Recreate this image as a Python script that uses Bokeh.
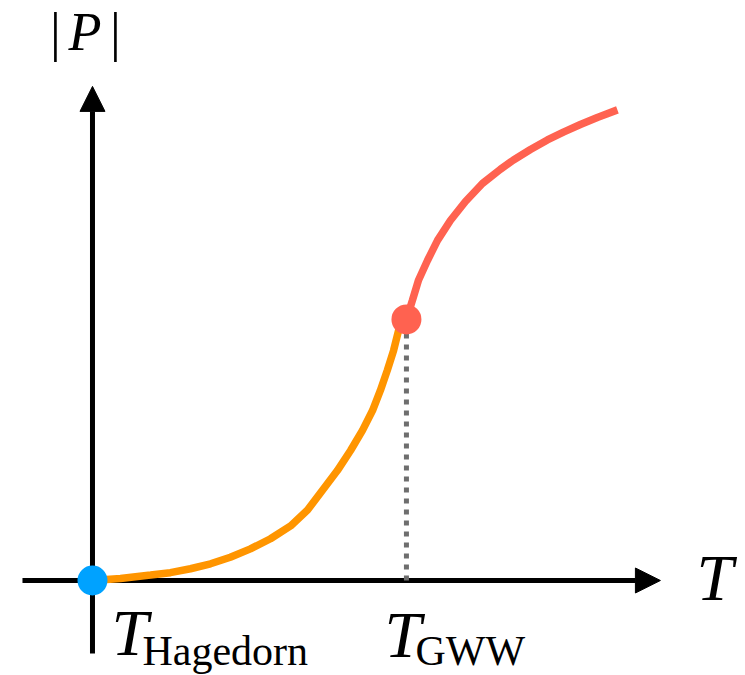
from bokeh.plotting import figure
from bokeh.models import Arrow, NormalHead, Range1d
from bokeh.core.properties import value
from bokeh.embed import file_html
from bokeh.resources import INLINE

# Temperature in units of T_GWW (T_Hagedorn at 0), |P| in units of |P(T_GWW)|
T_HAGEDORN = 0.0
T_GWW = 1.0
P_GWW = 1.0

# Branch between T_Hagedorn and T_GWW
t_low = [0.0, 0.089, 0.185, 0.248, 0.312, 0.376, 0.439, 0.503, 0.567, 0.631,
         0.685, 0.732, 0.780, 0.822, 0.860, 0.892, 0.917, 0.939, 0.959,
         0.975, 1.0]
p_low = [0.0, 0.008, 0.021, 0.030, 0.045, 0.064, 0.089, 0.121, 0.160, 0.209,
         0.270, 0.345, 0.421, 0.498, 0.575, 0.651, 0.728, 0.805, 0.881,
         0.958, 1.0]

# Branch above T_GWW
t_high = [1.0, 1.019, 1.038, 1.067, 1.099, 1.140, 1.188, 1.242, 1.299, 1.341,
          1.395, 1.449, 1.500, 1.554, 1.608, 1.672]
p_high = [1.0, 1.073, 1.149, 1.226, 1.303, 1.379, 1.452, 1.521, 1.575, 1.611,
          1.651, 1.688, 1.718, 1.747, 1.774, 1.803]

# Axis extents
x_axis_start, x_axis_end = -0.223, 1.809
y_axis_start, y_axis_end = -0.280, 1.893

ORANGE = "#FF9500"
RED = "#FF6250"
BLUE = "#00A2FF"
SERIF = value("Liberation Serif")

p = figure(width=745, height=675, output_backend="svg", toolbar_location=None,
           x_range=Range1d(-0.293, 2.080), y_range=Range1d(-0.364, 2.222),
           x_axis_type=None, y_axis_type=None, min_border=0)
p.outline_line_color = None
p.background_fill_color = "white"
p.border_fill_color = "white"

# Axes with arrow heads, kept beneath the curves and markers
for xs, ys, xe, ye in [(x_axis_start, 0, x_axis_end, 0),
                       (0, y_axis_start, 0, y_axis_end)]:
    p.add_layout(Arrow(end=NormalHead(size=25, fill_color="black",
                                      line_color="black", line_width=1),
                       x_start=xs, y_start=ys, x_end=xe, y_end=ye,
                       line_width=5, line_color="black", level="underlay"))

# Dotted drop line from the transition point
p.line([T_GWW, T_GWW], [0, P_GWW], line_width=5, line_color="#6E6E6E",
       line_dash="5 6")

# Curves
p.line(t_low, p_low, line_width=7.5, line_color=ORANGE)
p.line(t_high, p_high, line_width=7.5, line_color=RED)

# Marked points
p.scatter([T_HAGEDORN], [0], size=30, fill_color=BLUE, line_color=None)
p.scatter([T_GWW], [P_GWW], size=30, fill_color=RED, line_color=None)


def label(x, y, txt, size, dx, baseline_dy, italic=True, align="left"):
    # baseline_dy: pixel distance of the text baseline below the anchor
    dy = baseline_dy - 0.39 * size
    p.text(x=[x], y=[y], text=[txt], x_offset=dx, y_offset=dy,
           text_font=SERIF, text_font_size=f"{size}px",
           text_font_style="italic" if italic else "normal",
           text_align=align, text_baseline="alphabetic", text_color="black")


# Axis titles
label(0, y_axis_end, "|", 54, -37, -33, italic=False, align="center")
label(0, y_axis_end, "P", 54, -24, -33)
label(0, y_axis_end, "|", 54, 23, -33, italic=False, align="center")
label(x_axis_end, 0, "T", 66, 36, 23)

# Temperature labels
label(T_HAGEDORN, 0, "T", 66, 19, 78)
label(T_HAGEDORN, 0, "Hagedorn", 42, 50, 87, italic=False)
label(T_GWW, 0, "T", 66, -22, 80)
label(T_GWW, 0, "GWW", 42, 9, 87, italic=False)

open("out.html", "w").write(file_html(p, INLINE))
